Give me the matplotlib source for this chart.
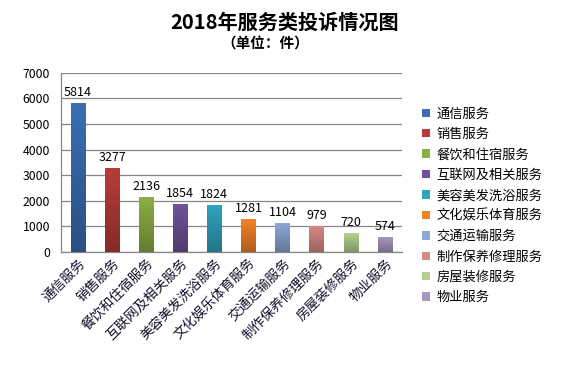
import numpy as np
import matplotlib
matplotlib.use("Agg")
from matplotlib import pyplot as plt
from matplotlib.patches import Patch
from matplotlib.colors import to_rgb

plt.rcParams['font.family'] = ['Noto Sans CJK SC', 'DejaVu Sans']

categories = ["通信服务", "销售服务", "餐饮和住宿服务", "互联网及相关服务", "美容美发洗浴服务",
              "文化娱乐体育服务", "交通运输服务", "制作保养修理服务", "房屋装修服务", "物业服务"]
values = [5814, 3277, 2136, 1854, 1824, 1281, 1104, 979, 720, 574]
colors = ["#3a6fb4", "#b83c39", "#8cae45", "#70529a", "#31a2bf",
          "#f28228", "#8ba8d6", "#d68987", "#b4d08e", "#a597c2"]
yticks = [0, 1000, 2000, 3000, 4000, 5000, 6000, 7000]

fig = plt.figure(figsize=(5.7, 3.68), dpi=100)
ax = fig.add_axes([0.107, 0.315, 0.598, 0.487])

x = np.arange(len(categories))
bars = ax.bar(x, values, width=0.42, color="none", edgecolor="none", zorder=3)

# 渐变填充：上浅下深
for b, c in zip(bars, colors):
    rgb = np.array(to_rgb(c))
    t = np.linspace(0, 1, 64)[:, None]
    grad = rgb * (1 - t) + rgb * 0.72 * t
    x0, w, h = b.get_x(), b.get_width(), b.get_height()
    ax.imshow(grad[:, None, :], extent=[x0, x0 + w, 0, h], aspect="auto",
              zorder=3, interpolation="bilinear")
    ax.text(x0 + w / 2, h + 180, str(int(h)), ha="center", va="bottom",
            fontsize=9, color="#000000", zorder=4)

ax.set_xlim(-0.5, len(categories) - 0.5)
ax.set_ylim(0, 7000)
ax.set_yticks(yticks)
ax.set_yticklabels([str(v) for v in yticks], fontsize=8.8)
ax.yaxis.grid(True, color="#868686", linewidth=0.9, zorder=0)
ax.set_axisbelow(True)
ax.tick_params(axis="y", length=0, pad=8)
ax.tick_params(axis="x", length=0, pad=3)
ax.set_xticks(x)
ax.set_xticklabels(categories, rotation=45, ha="right", rotation_mode="anchor",
                   fontsize=9.7, color="#101028")
for s in ["top", "right"]:
    ax.spines[s].set_visible(False)
for s in ["left", "bottom"]:
    ax.spines[s].set_color("#868686")
    ax.spines[s].set_linewidth(0.9)

fig.text(0.5, 0.94, "2018年服务类投诉情况图", ha="center", va="center",
         fontsize=14.5, fontweight="bold")
fig.text(0.465, 0.883, "（单位：件）", ha="center", va="center",
         fontsize=10.5, fontweight="bold")

handles = [Patch(facecolor=c, edgecolor="none") for c in colors]
fig.legend(handles, categories, loc="upper left", bbox_to_anchor=(0.72, 0.74),
           frameon=False, fontsize=9.5, handlelength=0.6, handleheight=0.6,
           handletextpad=0.5, labelspacing=0.56)

fig.savefig("out.png", dpi=100)
